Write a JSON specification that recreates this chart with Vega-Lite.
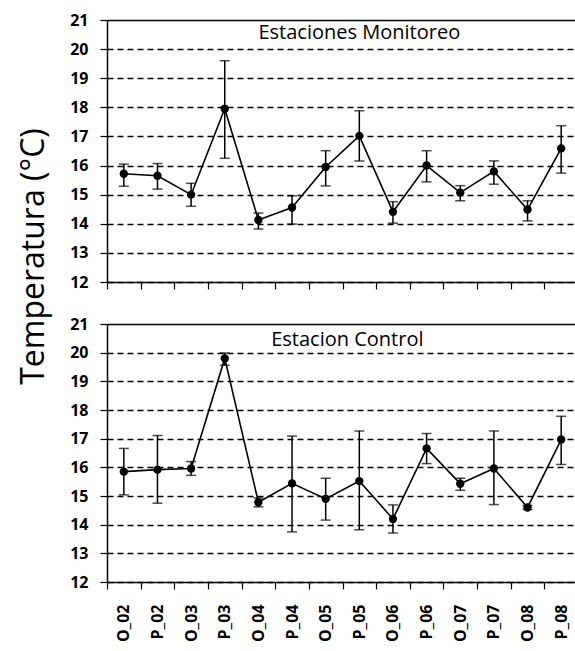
{
  "$schema": "https://vega.github.io/schema/vega-lite/v6.json",
  "padding": {"left": 17, "top": 12, "right": 0, "bottom": 0},
  "background": "white",
  "config": {
    "view": {"stroke": null},
    "font": "Open Sans",
    "axis": {
      "domainColor": "black",
      "domainWidth": 1.5,
      "tickColor": "black",
      "tickWidth": 1.2,
      "tickSize": 7,
      "labelColor": "black",
      "labelFont": "Open Sans",
      "labelFontWeight": "bold",
      "labelFontSize": 16
    },
    "axisY": {
      "labelOverlap": false,
      "grid": true,
      "gridColor": "black",
      "gridDash": [6, 4],
      "labelPadding": 12
    }
  },
  "datasets": {
    "monitoreo": [
      {"sitio": "O_02", "temp": 15.72, "lo": 15.29, "hi": 16.05},
      {"sitio": "P_02", "temp": 15.65, "lo": 15.19, "hi": 16.07},
      {"sitio": "O_03", "temp": 15.0, "lo": 14.6, "hi": 15.39},
      {"sitio": "P_03", "temp": 17.95, "lo": 16.25, "hi": 19.6},
      {"sitio": "O_04", "temp": 14.13, "lo": 13.82, "hi": 14.37},
      {"sitio": "P_04", "temp": 14.56, "lo": 13.99, "hi": 14.96},
      {"sitio": "O_05", "temp": 15.95, "lo": 15.3, "hi": 16.51},
      {"sitio": "P_05", "temp": 17.02, "lo": 16.16, "hi": 17.88},
      {"sitio": "O_06", "temp": 14.41, "lo": 14.02, "hi": 14.76},
      {"sitio": "P_06", "temp": 16.0, "lo": 15.44, "hi": 16.51},
      {"sitio": "O_07", "temp": 15.07, "lo": 14.79, "hi": 15.31},
      {"sitio": "P_07", "temp": 15.8, "lo": 15.36, "hi": 16.16},
      {"sitio": "O_08", "temp": 14.49, "lo": 14.1, "hi": 14.79},
      {"sitio": "P_08", "temp": 16.59, "lo": 15.74, "hi": 17.37}
    ],
    "control": [
      {"sitio": "O_02", "temp": 15.85, "lo": 15.04, "hi": 16.66},
      {"sitio": "P_02", "temp": 15.92, "lo": 14.75, "hi": 17.11},
      {"sitio": "O_03", "temp": 15.96, "lo": 15.72, "hi": 16.2},
      {"sitio": "P_03", "temp": 19.8, "lo": 19.56, "hi": 19.99},
      {"sitio": "O_04", "temp": 14.78, "lo": 14.62, "hi": 14.93},
      {"sitio": "P_04", "temp": 15.44, "lo": 13.75, "hi": 17.09},
      {"sitio": "O_05", "temp": 14.9, "lo": 14.16, "hi": 15.62},
      {"sitio": "P_05", "temp": 15.52, "lo": 13.82, "hi": 17.27},
      {"sitio": "O_06", "temp": 14.2, "lo": 13.71, "hi": 14.69},
      {"sitio": "P_06", "temp": 16.66, "lo": 16.13, "hi": 17.18},
      {"sitio": "O_07", "temp": 15.43, "lo": 15.2, "hi": 15.62},
      {"sitio": "P_07", "temp": 15.96, "lo": 14.7, "hi": 17.27},
      {"sitio": "O_08", "temp": 14.6, "lo": 14.53, "hi": 14.67},
      {"sitio": "P_08", "temp": 16.97, "lo": 16.1, "hi": 17.78}
    ]
  },
  "bounds": "flush",
  "spacing": 42,
  "vconcat": [
    {
      "width": 471,
      "height": 262,
      "data": {"name": "monitoreo"},
      "encoding": {
        "x": {
          "field": "sitio", "type": "nominal", "sort": null,
          "scale": {"domain": ["O_02","P_02","O_03","P_03","O_04","P_04","O_05","P_05","O_06","P_06","O_07","P_07","O_08","P_08"], "paddingInner": 0, "paddingOuter": 0},
          "axis": {"labels": false, "title": null, "tickBand": "extent"}
        }
      },
      "layer": [
        {
          "mark": {"type": "rule", "color": "black", "strokeWidth": 1.5},
          "encoding": {
            "y": {
              "field": "lo", "type": "quantitative",
              "scale": {"domain": [12, 21], "nice": false, "zero": false},
              "axis": {
                "values": [12, 13, 14, 15, 16, 17, 18, 19, 20, 21],
                "tickCount": 20,
                "format": "d",
                "gridWidth": 1.5,
                "gridDash": {"condition": {"test": "datum.value >= 21", "value": []}, "value": [6, 4]},
                "title": "Temperatura (°C)",
                "titleFont": "Open Sans",
                "titleFontSize": 32,
                "titleFontWeight": "normal",
                "titleColor": "black",
                "titleAngle": -90,
                "titleAlign": "center",
                "titleBaseline": "alphabetic",
                "titleX": -64,
                "titleY": 236
              }
            },
            "y2": {"field": "hi"}
          }
        },
        {
          "mark": {"type": "tick", "color": "black", "thickness": 1.5, "size": 10},
          "encoding": {"y": {"field": "lo", "type": "quantitative"}}
        },
        {
          "mark": {"type": "tick", "color": "black", "thickness": 1.5, "size": 10},
          "encoding": {"y": {"field": "hi", "type": "quantitative"}}
        },
        {
          "mark": {"type": "line", "color": "black", "strokeWidth": 1.6},
          "encoding": {"y": {"field": "temp", "type": "quantitative"}}
        },
        {
          "mark": {"type": "point", "filled": true, "color": "black", "opacity": 1, "size": 70},
          "encoding": {"y": {"field": "temp", "type": "quantitative"}}
        },
        {
          "data": {"values": [{"label": "Estaciones Monitoreo"}]},
          "mark": {"type": "text", "font": "Open Sans", "fontSize": 20, "color": "black", "baseline": "alphabetic", "align": "center"},
          "encoding": {
            "x": {"datum": "P_05", "type": "nominal"},
            "y": {"datum": 20.36, "type": "quantitative"},
            "text": {"field": "label"}
          }
        }
      ]
    },
    {
      "width": 471,
      "height": 258,
      "data": {"name": "control"},
      "encoding": {
        "x": {
          "field": "sitio", "type": "nominal", "sort": null,
          "scale": {"domain": ["O_02","P_02","O_03","P_03","O_04","P_04","O_05","P_05","O_06","P_06","O_07","P_07","O_08","P_08"], "paddingInner": 0, "paddingOuter": 0},
          "axis": {"title": null, "tickBand": "extent", "labelAngle": -90, "labelPadding": 15, "labelAlign": "right", "labelBaseline": "middle"}
        }
      },
      "layer": [
        {
          "mark": {"type": "rule", "color": "black", "strokeWidth": 1.5},
          "encoding": {
            "y": {
              "field": "lo", "type": "quantitative",
              "scale": {"domain": [12, 21], "nice": false, "zero": false},
              "axis": {
                "values": [12, 13, 14, 15, 16, 17, 18, 19, 20, 21],
                "tickCount": 20,
                "format": "d",
                "gridWidth": 1.3,
                "gridDash": {"condition": {"test": "datum.value >= 21", "value": []}, "value": [6, 4]},
                "title": null
              }
            },
            "y2": {"field": "hi"}
          }
        },
        {
          "mark": {"type": "tick", "color": "black", "thickness": 1.5, "size": 10},
          "encoding": {"y": {"field": "lo", "type": "quantitative"}}
        },
        {
          "mark": {"type": "tick", "color": "black", "thickness": 1.5, "size": 10},
          "encoding": {"y": {"field": "hi", "type": "quantitative"}}
        },
        {
          "mark": {"type": "line", "color": "black", "strokeWidth": 1.6},
          "encoding": {"y": {"field": "temp", "type": "quantitative"}}
        },
        {
          "mark": {"type": "point", "filled": true, "color": "black", "opacity": 1, "size": 70},
          "encoding": {"y": {"field": "temp", "type": "quantitative"}}
        },
        {
          "data": {"values": [{"label": "Estacion Control"}]},
          "mark": {"type": "text", "font": "Open Sans", "fontSize": 20, "color": "black", "baseline": "alphabetic", "align": "center", "dx": -12},
          "encoding": {
            "x": {"datum": "P_05", "type": "nominal"},
            "y": {"datum": 20.25, "type": "quantitative"},
            "text": {"field": "label"}
          }
        }
      ]
    }
  ]
}
